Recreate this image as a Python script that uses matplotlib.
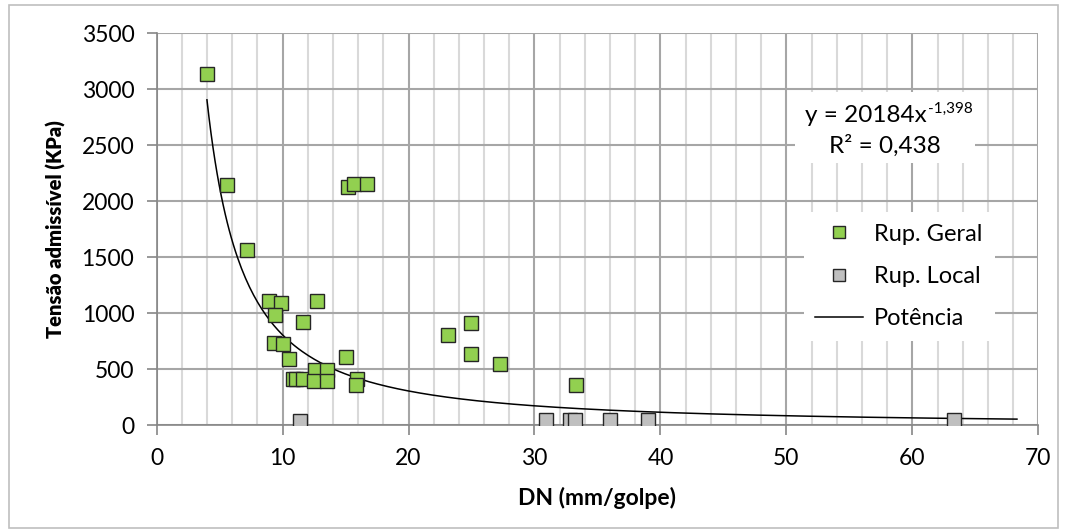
import numpy as np
import matplotlib
matplotlib.use("Agg")
import matplotlib.pyplot as plt
from matplotlib.lines import Line2D
from matplotlib.patches import Rectangle
from matplotlib.ticker import MultipleLocator

plt.rcParams['font.family'] = ['Lato', 'DejaVu Sans']

# Rup. Geral (general rupture)
geral_dn = [4.0, 5.6, 7.2, 8.9, 9.9, 9.4, 9.3, 10.0, 10.5, 11.6, 12.7,
            15.2, 15.7, 16.7, 15.0, 10.8, 11.1, 11.6, 12.6, 12.5, 13.5,
            13.5, 15.9, 15.8, 23.1, 25.0, 25.0, 27.3, 33.3]
geral_tensao = [3140, 2143, 1565, 1110, 1089, 985, 737, 726, 592, 925, 1113,
                2130, 2154, 2154, 607, 410, 410, 410, 494, 396, 494,
                396, 411, 360, 807, 915, 633, 546, 358]

# Rup. Local (local rupture)
local_dn = [11.4, 30.9, 32.8, 33.2, 36.0, 39.0, 63.3]
local_tensao = [41, 49, 49, 49, 49, 49, 49]

# power trendline as printed on the chart: y = 20184 x^-1.398
fit_a = 20184
fit_b = -1.398
fit_r2 = 0.438
fit_xmin, fit_xmax = 4.0, 68.3

GREEN = "#92D050"
GREY = "#BFBFBF"
EDGE = "#262626"

fig = plt.figure(figsize=(10.65, 5.32), dpi=100)
ax = fig.add_axes([0.147, 0.2006, 0.828, 0.7368])

# trendline
xx = np.linspace(fit_xmin, fit_xmax, 400)
ax.plot(xx, fit_a * xx ** fit_b, color="black", lw=1.1, zorder=3)

ax.plot(geral_dn, geral_tensao, ls="none", marker="s", ms=9.5,
        mfc=GREEN, mec=EDGE, mew=1.0, zorder=4)
ax.plot(local_dn, local_tensao, ls="none", marker="s", ms=9.5,
        mfc=GREY, mec=EDGE, mew=1.0, zorder=4)

ax.set_xlim(0, 70)
ax.set_ylim(0, 3500)
ax.xaxis.set_major_locator(MultipleLocator(10))
ax.xaxis.set_minor_locator(MultipleLocator(2))
ax.yaxis.set_major_locator(MultipleLocator(500))

ax.grid(which="minor", axis="x", color="#D9D9D9", lw=1.5, zorder=0)
ax.grid(which="major", axis="both", color="#A6A6A6", lw=1.5, zorder=0)
ax.set_axisbelow(True)

for side in ["top", "right"]:
    ax.spines[side].set_visible(False)
for side in ["left", "bottom"]:
    ax.spines[side].set_color("#868686")
    ax.spines[side].set_linewidth(1.2)

ax.tick_params(which="major", length=7, width=1.2, color="#868686",
               labelsize=16.5, pad=9)
ax.tick_params(which="minor", length=0)

ax.set_xlabel("DN (mm/golpe)", fontsize=16.5, fontweight="bold", labelpad=13)
ax.set_ylabel("Tensão admissível (KPa)", fontsize=14.5, fontweight="heavy",
              labelpad=11)

# equation label on a white box
ax.add_patch(Rectangle((0.724, 0.669), 0.204, 0.181, transform=ax.transAxes,
                       facecolor="white", edgecolor="none", zorder=5))
eq = ax.text(0.735, 0.7745, "y = 20184x", transform=ax.transAxes,
             fontsize=17.5, ha="left", va="baseline", zorder=6)
ax.annotate("-1,398", xy=(1, 0.62), xycoords=eq, xytext=(1, 0),
            textcoords="offset points", fontsize=11, ha="left",
            va="baseline", zorder=6)
ax.text(0.826, 0.6954, "R² = {}".format(str(fit_r2).replace(".", ",")),
        transform=ax.transAxes, fontsize=17.5, ha="center", va="baseline",
        zorder=6)

handles = [
    Line2D([], [], ls="none", marker="s", ms=9, mfc=GREEN, mec=EDGE, mew=1.0),
    Line2D([], [], ls="none", marker="s", ms=9, mfc=GREY, mec=EDGE, mew=1.0),
    Line2D([], [], color="black", lw=1.1),
]
leg = ax.legend(handles, ["Rup. Geral", "Rup. Local", "Potência"],
                loc="center", bbox_to_anchor=(0.842, 0.38), fontsize=17,
                frameon=True, fancybox=False, handlelength=2.0,
                handletextpad=0.5, labelspacing=0.9, borderpad=0.5)
leg.get_frame().set_facecolor("white")
leg.get_frame().set_edgecolor("none")
leg.get_frame().set_alpha(1)
leg.set_zorder(6)

# outer chart border
fig.patches.append(Rectangle((0.008, 0.008), 0.985, 0.982, transform=fig.transFigure,
                             fill=False, edgecolor="#BFBFBF", lw=1.2))

fig.savefig("out.png", dpi=100)
